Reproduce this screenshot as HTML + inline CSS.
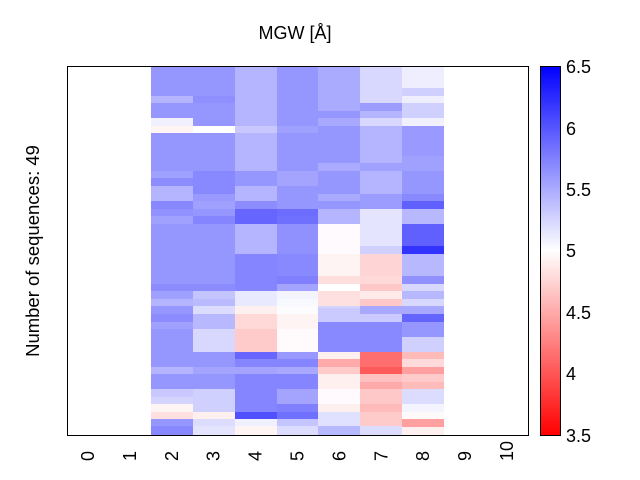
<!DOCTYPE html>
<html><head><style>body{margin:0;background:#fff}svg{display:block}text{font-family:"Liberation Sans",Arial,sans-serif;fill:#000}</style></head>
<body>
<svg width="640" height="480" xmlns="http://www.w3.org/2000/svg">
<defs><linearGradient id="cb" x1="0" y1="1" x2="0" y2="0"><stop offset="0" stop-color="#ff0000"/><stop offset="0.5" stop-color="#ffffff"/><stop offset="1" stop-color="#0000ff"/></linearGradient></defs>
<g id="cells" shape-rendering="crispEdges"></g>
<rect x="67.5" y="66.5" width="461" height="369" fill="none" stroke="#000" stroke-width="1"/>
<rect x="540" y="66" width="20" height="369" fill="url(#cb)"/>
<rect x="540.5" y="66.5" width="20" height="369" fill="none" stroke="#000"/>
<g font-size="18">
<text x="566" y="73">6.5</text><text x="566" y="135">6</text><text x="566" y="196">5.5</text><text x="566" y="257">5</text><text x="566" y="319">4.5</text><text x="566" y="380">4</text><text x="566" y="442">3.5</text>
</g>
<text x="295" y="39" font-size="18" text-anchor="middle">MGW [Å]</text>
<text transform="translate(39,251) rotate(-90)" font-size="18.5" text-anchor="middle">Number of sequences: 49</text>
<g id="xt" font-size="18"></g>
<script>
var cols={
2:[[66,96,'#9696ff'],[96,103,'#b4b4ff'],[103,118,'#9696ff'],[118,126,'#f0f0ff'],[126,133,'#fff4f4'],[133,171,'#9696ff'],[171,178,'#a0a0ff'],[178,186,'#8c8cff'],[186,201,'#b4b4ff'],[201,209,'#8787ff'],[209,216,'#9191ff'],[216,224,'#a0a0ff'],[224,284,'#9696ff'],[284,291,'#8c8cff'],[291,299,'#a0a0ff'],[299,306,'#b4b4ff'],[306,314,'#9696ff'],[314,322,'#8c8cff'],[322,329,'#a0a0ff'],[329,367,'#9696ff'],[367,374,'#b4b4ff'],[374,389,'#9696ff'],[389,397,'#c8c8ff'],[397,404,'#d4d4ff'],[404,412,'#fff4f4'],[412,419,'#ffe0e0'],[419,426,'#9696ff'],[426,435,'#8787ff']],
3:[[66,96,'#9696ff'],[96,103,'#8f8fff'],[103,126,'#9696ff'],[126,133,'#ffffff'],[133,171,'#9696ff'],[171,194,'#8888ff'],[194,201,'#9999ff'],[201,209,'#a0a0ff'],[209,216,'#9696ff'],[216,224,'#8585ff'],[224,284,'#9696ff'],[284,291,'#8c8cff'],[291,299,'#c4c4ff'],[299,306,'#babaff'],[306,314,'#dcdcff'],[314,329,'#b8b8ff'],[329,352,'#d8d8ff'],[352,367,'#9696ff'],[367,374,'#a4a4ff'],[374,389,'#9696ff'],[389,412,'#d0d0ff'],[412,419,'#fff0f0'],[419,426,'#dcdcff'],[426,435,'#e4e4ff']],
4:[[66,126,'#b4b4ff'],[126,133,'#c8c8ff'],[133,171,'#b4b4ff'],[171,186,'#9696ff'],[186,201,'#b4b4ff'],[201,209,'#8c8cff'],[209,224,'#6666ff'],[224,254,'#b4b4ff'],[254,291,'#8585ff'],[291,306,'#e8e8ff'],[306,314,'#fff0f0'],[314,329,'#ffd8d8'],[329,352,'#ffcaca'],[352,359,'#6666ff'],[359,367,'#8585ff'],[367,374,'#a4a4ff'],[374,412,'#8585ff'],[412,419,'#5050ff'],[419,426,'#f0f0ff'],[426,435,'#fff4f4']],
5:[[66,126,'#9696ff'],[126,133,'#a0a0ff'],[133,171,'#9696ff'],[171,186,'#a4a4ff'],[186,209,'#9696ff'],[209,216,'#6c6cff'],[216,224,'#7070ff'],[224,254,'#9090ff'],[254,276,'#8888ff'],[276,284,'#8080ff'],[284,291,'#a4a4ff'],[291,299,'#f4f4ff'],[299,306,'#f8f8ff'],[306,314,'#fcfcff'],[314,329,'#fff4f4'],[329,352,'#fffafc'],[352,359,'#9898ff'],[359,367,'#8585ff'],[367,374,'#a8a8ff'],[374,389,'#8585ff'],[389,404,'#a4a4ff'],[404,412,'#8080ff'],[412,419,'#7070ff'],[419,426,'#c4c4ff'],[426,435,'#dcdcff']],
6:[[66,111,'#aaaaff'],[111,118,'#9696ff'],[118,126,'#a8a8ff'],[126,163,'#9696ff'],[163,171,'#aaaaff'],[171,194,'#9696ff'],[194,201,'#aaaaff'],[201,209,'#9696ff'],[209,224,'#b4b4ff'],[224,254,'#fffafe'],[254,276,'#fff4f4'],[276,284,'#ffdede'],[284,291,'#ffffff'],[291,306,'#ffe0e0'],[306,308,'#d4d4ff'],[308,322,'#cacaff'],[322,352,'#8888ff'],[352,359,'#fff0f0'],[359,367,'#ffaaaa'],[367,374,'#ffcaca'],[374,389,'#fff0f0'],[389,404,'#fffafe'],[404,412,'#fff0f0'],[412,426,'#e0e0ff'],[426,435,'#b8b8ff']],
7:[[66,103,'#d8d8ff'],[103,111,'#9c9cff'],[111,118,'#b4b4ff'],[118,126,'#d8d8ff'],[126,163,'#b4b4ff'],[163,171,'#a0a0ff'],[171,194,'#b4b4ff'],[194,209,'#9c9cff'],[209,246,'#e4e4ff'],[246,254,'#d0d0ff'],[254,276,'#ffd4d4'],[276,284,'#ffd8d8'],[284,291,'#ffc8c8'],[291,299,'#ffeaea'],[299,306,'#ffc8c8'],[306,314,'#a8a8ff'],[314,322,'#cacaff'],[322,352,'#8888ff'],[352,367,'#ff6e6e'],[367,374,'#ff5a5a'],[374,382,'#ffc0c0'],[382,389,'#ffaaaa'],[389,404,'#ffc8c8'],[404,412,'#ffbaba'],[412,426,'#ffcaca'],[426,435,'#dcdcff']],
8:[[66,88,'#eeeeff'],[88,96,'#d0d0ff'],[96,103,'#eeeeff'],[103,118,'#d0d0ff'],[118,126,'#f0f0ff'],[126,156,'#9999ff'],[156,171,'#a0a0ff'],[171,194,'#9696ff'],[194,201,'#8888ff'],[201,209,'#6060ff'],[209,224,'#b8b8ff'],[224,246,'#6060ff'],[246,254,'#3333ff'],[254,276,'#b8b8ff'],[276,284,'#9090ff'],[284,291,'#d8d8ff'],[291,299,'#b8b8ff'],[299,306,'#d8d8ff'],[306,314,'#a8a8ff'],[314,322,'#6464ff'],[322,337,'#9696ff'],[337,352,'#d0d0ff'],[352,359,'#ffbaba'],[359,367,'#ffdada'],[367,374,'#ffa0a0'],[374,382,'#ffcaca'],[382,389,'#ffbaba'],[389,404,'#dcdcff'],[404,412,'#f4f4ff'],[412,419,'#fffafa'],[419,427,'#ffa0a0'],[427,435,'#fff0f0']]};
var g=document.getElementById('cells'),ns='http://www.w3.org/2000/svg',w=461/11;
for(var c in cols){var x0=Math.round(67+w*c),x1=Math.round(67+w*(+c+1));cols[c].forEach(function(s){var r=document.createElementNS(ns,'rect');r.setAttribute('x',x0);r.setAttribute('width',x1-x0);r.setAttribute('y',s[0]);r.setAttribute('height',s[1]-s[0]);r.setAttribute('fill',s[2]);g.appendChild(r);});}
var xt=document.getElementById('xt');
for(var i=0;i<=10;i++){var t=document.createElementNS(ns,'text');var cx=67+w*(i+0.5)+6;t.setAttribute('transform','translate('+cx+',461) rotate(-90)');t.textContent=i;xt.appendChild(t);}
</script>
</svg>
</body></html>
